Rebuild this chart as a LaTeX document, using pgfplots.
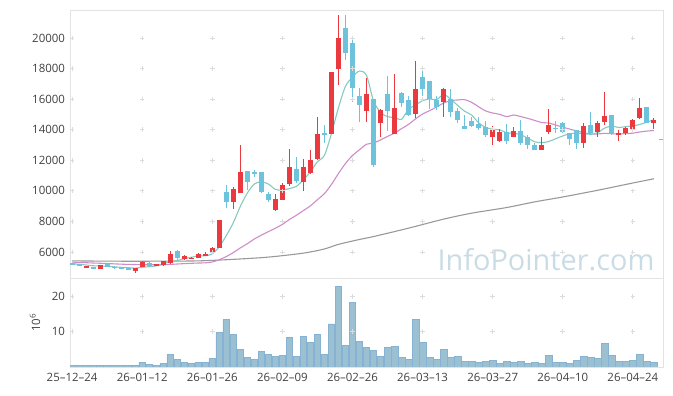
\documentclass[border=0pt]{standalone}
\usepackage{pgfplots}
\usepackage{pgfplotstable}
\pgfplotsset{compat=1.18}
\usepackage{fontspec}
\setmainfont{Open Sans}
\definecolor{upc}{HTML}{EB3A3F}
\definecolor{dnc}{HTML}{6CC3DB}
\definecolor{ma5}{HTML}{86C9BE}
\definecolor{ma20}{HTML}{CC8DC8}
\definecolor{malong}{HTML}{999999}
\definecolor{volf}{HTML}{9BC0D2}
\definecolor{vole}{HTML}{86B2D4}
\definecolor{frame}{HTML}{E3E3E3}
\definecolor{gridc}{HTML}{DCDCDC}
\definecolor{lab}{HTML}{404040}
\definecolor{wm}{HTML}{C9DCE6}

\pgfplotstableread{
i O H L C
2 4990 5110 4980 5100
4 4920 5150 4910 5140
9 4770 4980 4600 4970
10 5010 5380 5000 5360
12 5120 5220 5110 5210
13 5140 5420 5060 5380
14 5270 6060 5230 5880
16 5560 5820 5450 5750
17 5560 5650 5530 5620
18 5640 5950 5580 5880
19 5770 5990 5730 5880
20 5930 6300 5920 6270
21 6270 8120 6250 8100
23 9240 10280 8800 10110
24 9890 12980 9850 11220
29 8760 9800 8670 9450
30 9410 10500 9380 10410
31 10460 12720 10330 11540
33 10590 12110 9960 11570
34 11150 12640 11070 12030
35 12070 14810 12030 13730
37 13750 17800 13700 17780
38 18000 21530 16950 20000
42 15250 17390 14510 16340
44 14470 15340 13510 15290
46 13750 17650 13740 15420
49 15010 18470 14750 16670
53 15840 16710 14810 16640
60 13510 14250 12980 14050
61 13290 14050 13220 13880
63 13550 14180 13490 13940
67 12680 13510 12640 13010
68 13860 15340 13700 14310
73 13120 14420 12830 14250
75 13880 14600 13510 14470
76 14530 16450 14310 14900
78 13680 13990 13290 13810
79 13770 14200 13660 14120
80 14070 14680 14030 14640
81 14790 16060 14680 15420
83 14470 14790 14030 14640
}\uptab

\pgfplotstableread{
i O H L C
0 5250 5270 5150 5170
1 5230 5240 5080 5100
3 5030 5040 4910 4920
5 5200 5270 5020 5050
6 5050 5060 4920 4930
7 5010 5050 4880 4950
8 4940 4950 4810 4820
11 5290 5420 5050 5100
15 6080 6100 5490 5620
22 9930 10370 8870 9240
25 11300 11310 10060 10610
26 11240 11350 10930 11070
27 11220 11250 9850 9930
28 9800 9950 9240 9410
32 11410 12200 10540 10670
36 13790 14290 13110 13640
39 20650 21480 18560 19040
40 19700 20090 15840 16730
41 16210 16710 14530 15640
43 15990 16000 11550 11720
45 16340 17520 13940 15250
47 16380 16470 15510 15730
48 15950 16210 14900 14990
50 17430 17910 16230 16690
51 17170 17170 15380 15990
52 15950 16210 15290 15510
54 15990 16640 14860 15180
55 15210 15400 14420 14640
56 14250 14970 14030 14070
57 14550 14810 14200 14250
58 14380 14810 13990 14120
59 14200 14600 13510 13660
62 13860 14380 13070 13290
64 13940 14640 13010 13160
65 13510 13640 12720 12980
66 13010 13160 12640 12680
69 14140 14600 13810 14080
70 14420 14490 13770 13880
71 13770 13770 12980 13420
72 13990 14000 12720 13120
74 14310 15140 13640 13810
77 14990 14990 13660 13730
82 15490 15490 14420 14470
}\dntab

\pgfplotsset{
  wick/.style={draw=none, mark=none, forget plot,
    error bars/.cd, y dir=both, y explicit, error mark=none,
    error bar style={draw=#1, line width=1bp}},
  body/.style={draw=none, mark=none, forget plot,
    error bars/.cd, y dir=both, y explicit, error mark=none,
    error bar style={draw=#1, line width=5.2bp}},
  gridmark/.style={only marks, mark=+, mark size=2.3bp, gridc, line width=0.8bp, forget plot},
  base/.style={scale only axis, width=593bp, xmin=-0.3, xmax=84.3,
    axis line style={draw=frame, line width=0.8bp},
    major tick length=0pt, tick style={draw=none},
    ticklabel style={font=\fontsize{11.5}{13}\selectfont, text=lab},
    /pgf/number format/assume math mode=true,
    /pgf/number format/1000 sep={},
    scaled y ticks=false,
    xtick={0,10,...,80},
    clip=true},
}

\begin{document}
\begin{tikzpicture}
\useasboundingbox (0,0) rectangle (673bp,396bp);
% price panel
\begin{axis}[base, at={(70bp,118bp)}, anchor=south west, height=268bp,
  ymin=4300, ymax=21830,
  ytick={6000,8000,...,20000},
  xticklabels={},
  yticklabel style={xshift=-1.5bp}]
\node[font=\fontsize{29}{32}\selectfont, text=wm, anchor=base] at (axis cs:67.6,4800) {InfoPointer.com};
\pgfplotsinvokeforeach{0,10,...,80}{
  \addplot[gridmark] coordinates {(#1,6000) (#1,8000) (#1,10000) (#1,12000) (#1,14000) (#1,16000) (#1,18000) (#1,20000)};
}
% long moving average
\addplot[malong, line width=1.1bp, smooth] coordinates {
(0,5420) (6,5400) (12,5400) (18,5420) (23,5520) (28,5667) (33,5928) (36,6200) (38,6500) (41,6820) (43,7010) (48,7560) (53,8150) (57,8540) (62,8910) (66,9280) (70,9600) (75,10040) (79,10420) (83,10790)};
% MA20
\addplot[ma20, line width=1.1bp, smooth] coordinates {
(0,5340) (1,5320) (2,5300) (3,5280) (4,5265) (5,5245) (6,5225) (7,5205) (8,5190) (9,5180)
(10,5170) (11,5165) (12,5165) (13,5170) (14,5190) (15,5215) (16,5240) (17,5260) (18,5280) (19,5292)
(20,5347) (21,5497) (22,5704) (23,5963) (24,6267) (25,6545) (26,6852) (27,7101) (28,7331) (29,7555)
(30,7807) (31,8129) (32,8402) (33,8712) (34,9019) (35,9425) (36,9819) (37,10427) (38,11133) (39,11791)
(40,12314) (41,12691) (42,13046) (43,13127) (44,13330) (45,13562) (46,13780) (47,14070) (48,14349) (49,14710)
(50,15024) (51,15246) (52,15488) (53,15742) (54,15899) (55,15945) (56,15966) (57,15790) (58,15496) (59,15227)
(60,15093) (61,15005) (62,14852) (63,14963) (64,14857) (65,14743) (66,14606) (67,14470) (68,14436) (69,14307)
(70,14166) (71,14038) (72,13918) (73,13799) (74,13730) (75,13722) (76,13763) (77,13737) (78,13722) (79,13745)
(80,13774) (81,13851) (82,13910) (83,13945)};
% MA5
\addplot[ma5, line width=1.1bp, smooth] coordinates {
(0,5230) (1,5200) (2,5150) (3,5100) (4,5086) (5,5062) (6,5028) (7,4998) (8,4978) (9,4944)
(10,5006) (11,5040) (12,5092) (13,5204) (14,5386) (15,5438) (16,5568) (17,5650) (18,5750) (19,5750)
(20,5880) (21,6350) (22,7074) (23,7920) (24,8988) (25,9856) (26,10450) (27,10588) (28,10448) (29,10094)
(30,10054) (31,10148) (32,10296) (33,10728) (34,11244) (35,11908) (36,12328) (37,13750) (38,15436) (39,16838)
(40,17438) (41,17838) (42,17550) (43,15894) (44,15144) (45,14848) (46,14804) (47,14682) (48,15336) (49,15612)
(50,15900) (51,16014) (52,15970) (53,16300) (54,16002) (55,15592) (56,15208) (57,14956) (58,14452) (59,14148)
(60,14030) (61,13992) (62,13800) (63,13764) (64,13664) (65,13450) (66,13210) (67,13154) (68,13228) (69,13412)
(70,13592) (71,13740) (72,13762) (73,13750) (74,13696) (75,13814) (76,14110) (77,14232) (78,14144) (79,14206)
(80,14240) (81,14344) (82,14492) (83,14658)};
% candles
\addplot[wick=upc] table[x=i, y expr={0.5*(\thisrow{H}+\thisrow{L})}, y error expr={0.5*(\thisrow{H}-\thisrow{L})}] {\uptab};
\addplot[body=upc] table[x=i, y expr={0.5*(\thisrow{O}+\thisrow{C})}, y error expr={0.5*abs(\thisrow{C}-\thisrow{O})}] {\uptab};
\addplot[wick=dnc] table[x=i, y expr={0.5*(\thisrow{H}+\thisrow{L})}, y error expr={0.5*(\thisrow{H}-\thisrow{L})}] {\dntab};
\addplot[body=dnc] table[x=i, y expr={0.5*(\thisrow{O}+\thisrow{C})}, y error expr={0.5*abs(\thisrow{C}-\thisrow{O})}] {\dntab};
\addplot[dnc, line width=1bp, forget plot] coordinates {(83.7,13380) (84.3,13380)};
\end{axis}
% volume panel
\begin{axis}[base, at={(70bp,29bp)}, anchor=south west, height=89bp,
  ymin=0, ymax=25.2, ytick={10,20},
  xticklabels={25--12--24,26--01--12,26--01--26,26--02--09,26--02--26,26--03--13,26--03--27,26--04--10,26--04--24},
  xticklabel style={yshift=-3bp},
  yticklabel style={xshift=-1.5bp},
  ylabel={10\textsuperscript{6}},
  ylabel style={at={(axis description cs:-0.059,0.5)}, anchor=center, font=\fontsize{11.5}{13}\selectfont, text=lab}]
\pgfplotsinvokeforeach{0,10,...,80}{
  \addplot[gridmark] coordinates {(#1,10) (#1,20)};
}
\addplot[ybar, bar width=0.95, fill=volf, draw=vole, line width=0.7bp] coordinates {
(0,0.5) (1,0.45) (2,0.45) (3,0.45) (4,0.45) (5,0.45) (6,0.45) (7,0.45) (8,0.45) (9,0.5)
(10,1.3) (11,0.7) (12,0.45) (13,1.0) (14,3.5) (15,2.1) (16,1.3) (17,1.0) (18,1.3) (19,1.3)
(20,2.4) (21,9.7) (22,13.4) (23,9.15) (24,4.9) (25,2.7) (26,2.1) (27,4.4) (28,3.5) (29,3.0)
(30,3.25) (31,8.3) (32,3.0) (33,8.6) (34,6.9) (35,9.15) (36,3.5) (37,12.2) (38,22.9) (39,6.05)
(40,18.4) (41,7.2) (42,5.5) (43,4.65) (44,3.0) (45,5.5) (46,5.8) (47,2.7) (48,2.1) (49,13.4)
(50,6.9) (51,2.7) (52,2.1) (53,4.9) (54,2.7) (55,3.0) (56,1.55) (57,1.55) (58,1.3) (59,1.55)
(60,1.85) (61,1.0) (62,1.55) (63,1.3) (64,1.55) (65,1.0) (66,1.3) (67,1.0) (68,3.25) (69,1.3)
(70,1.3) (71,1.0) (72,1.85) (73,3.0) (74,2.7) (75,2.4) (76,6.6) (77,3.25) (78,1.55) (79,1.55)
(80,1.85) (81,3.5) (82,1.55) (83,1.3)};
\end{axis}
\end{tikzpicture}
\end{document}
